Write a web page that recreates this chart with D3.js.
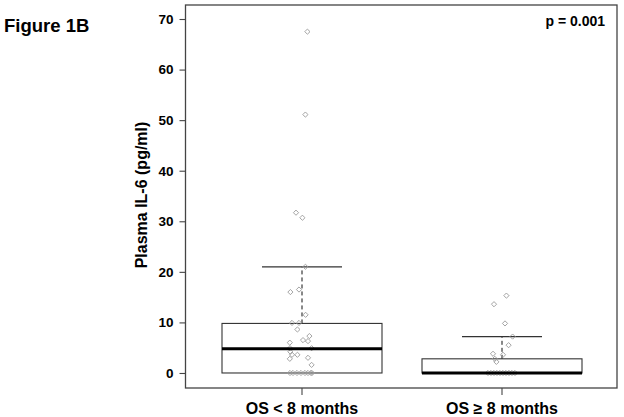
<!DOCTYPE html>
<html><head><meta charset="utf-8">
<script src="https://cdn.jsdelivr.net/npm/d3@7"></script>
<style>body{margin:0;background:#fff}svg{display:block}text{font-family:"Liberation Sans",Arial,sans-serif;font-weight:bold}</style>
</head><body><svg id="c" width="624" height="417"></svg>
<script>
const categories = ["OS < 8 months", "OS \u2265 8 months"];
const yTicks = [0, 10, 20, 30, 40, 50, 60, 70];
// box statistics: [lower whisker, q1, median, q3, upper whisker]
const boxStats = [[0, 0, 4.8, 9.8, 21.0], [0, 0, 0, 2.8, 7.2]];
// observed values per group
const group1 = [67.5, 51.1, 31.7, 30.7, 21.0, 16.5, 16.0, 11.5, 9.9, 9.9, 8.6, 7.3, 6.5, 6.3, 6.0, 4.9, 4.9, 4.2, 3.6, 3.6, 3.0, 2.8, 1.6, 0, 0, 0, 0, 0, 0, 0, 0];
const group2 = [15.3, 13.6, 9.8, 7.2, 5.5, 3.8, 3.6, 2.8, 2.2, 0, 0, 0, 0, 0, 0, 0, 0, 0, 0];
// horizontal jitter (fraction of category step)
const jitter1 = [0.027, 0.017, -0.03, 0.002, 0.017, -0.015, -0.058, 0.018, -0.05, -0.015, -0.023, 0.037, 0.005, 0.03, -0.061, 0.048, -0.06, -0.058, -0.05, -0.023, 0.03, -0.061, 0.048, -0.06, -0.045, -0.025, -0.005, 0.015, 0.03, 0.045, 0.05];
const jitter2 = [0.022, -0.04, 0.015, 0.053, 0.033, -0.045, 0.005, -0.036, -0.028, -0.07, -0.055, -0.04, -0.025, -0.01, 0.005, 0.02, 0.035, 0.05, 0.065];
const pLabel = "p = 0.001";

const svg = d3.select("#c");
const L = 185.5, R = 617, T = 5, B = 388;
const y = d3.scaleLinear().domain([-2.97, 72.77]).range([B, T]);
const x = d3.scaleBand().domain(categories).range([202, 602]).paddingInner(0).paddingOuter(0);
const step = x.step();
const cx = c => x(c) + x.bandwidth() / 2;
const boxW = step * 0.8, capW = step * 0.4;

const groups = [group1, group2], jits = [jitter1, jitter2];
const diamond = (px, py, r) => `M${px},${py - r}L${px + r},${py}L${px},${py + r}L${px - r},${py}Z`;
categories.forEach((c, i) => {
  const s = boxStats[i];
  const g = svg.append("g");
  g.append("line").attr("x1", cx(c)).attr("x2", cx(c)).attr("y1", y(s[3])).attr("y2", y(s[4]))
    .attr("stroke", "#111").attr("stroke-width", 1).attr("stroke-dasharray", "4,3");
  g.append("line").attr("x1", cx(c) - capW / 2).attr("x2", cx(c) + capW / 2).attr("y1", y(s[4])).attr("y2", y(s[4]))
    .attr("stroke", "#333").attr("stroke-width", 1.3);
  g.append("rect").attr("x", cx(c) - boxW / 2).attr("width", boxW).attr("y", y(s[3])).attr("height", y(s[1]) - y(s[3]))
    .attr("fill", "none").attr("stroke", "#333").attr("stroke-width", 1.1);
  g.selectAll("path.pt").data(groups[i]).join("path").attr("class", "pt")
    .attr("d", (v, k) => diamond(cx(c) + jits[i][k] * step, y(v), 2.6))
    .attr("fill", "none").attr("stroke", "#9a9a9a").attr("stroke-width", 0.9);
  g.append("line").attr("x1", cx(c) - boxW / 2).attr("x2", cx(c) + boxW / 2).attr("y1", y(s[2])).attr("y2", y(s[2]))
    .attr("stroke", "#000").attr("stroke-width", 3);
});

svg.append("rect").attr("x", L).attr("y", T).attr("width", R - L).attr("height", B - T)
  .attr("fill", "none").attr("stroke", "#444").attr("stroke-width", 1.3);

const ya = svg.append("g").attr("transform", `translate(${L},0)`)
  .call(d3.axisLeft(y).tickValues(yTicks).tickSize(6).tickPadding(6));
ya.select(".domain").remove();
ya.selectAll(".tick line").attr("stroke", "#444").attr("stroke-width", 1.1);
ya.selectAll(".tick text").attr("font-size", 13.5).attr("font-family", '"Liberation Sans",Arial,sans-serif').attr("font-weight", "bold").attr("fill", "#000");

const xa = svg.append("g").attr("transform", `translate(0,${B})`)
  .call(d3.axisBottom(x).tickSize(7).tickPadding(8));
xa.select(".domain").remove();
xa.selectAll(".tick line").attr("stroke", "#444").attr("stroke-width", 1.1);
xa.selectAll(".tick text").attr("font-size", 16).attr("font-family", '"Liberation Sans",Arial,sans-serif').attr("font-weight", "bold").attr("fill", "#000");

svg.append("text").attr("transform", "translate(147,195) rotate(-90)").attr("text-anchor", "middle")
  .attr("font-size", 16).text("Plasma IL-6 (pg/ml)");
svg.append("text").attr("x", 4).attr("y", 32).attr("font-size", 18.5).text("Figure 1B");
svg.append("text").attr("x", 605).attr("y", 26).attr("text-anchor", "end").attr("font-size", 14).text(pLabel);
</script></body></html>
